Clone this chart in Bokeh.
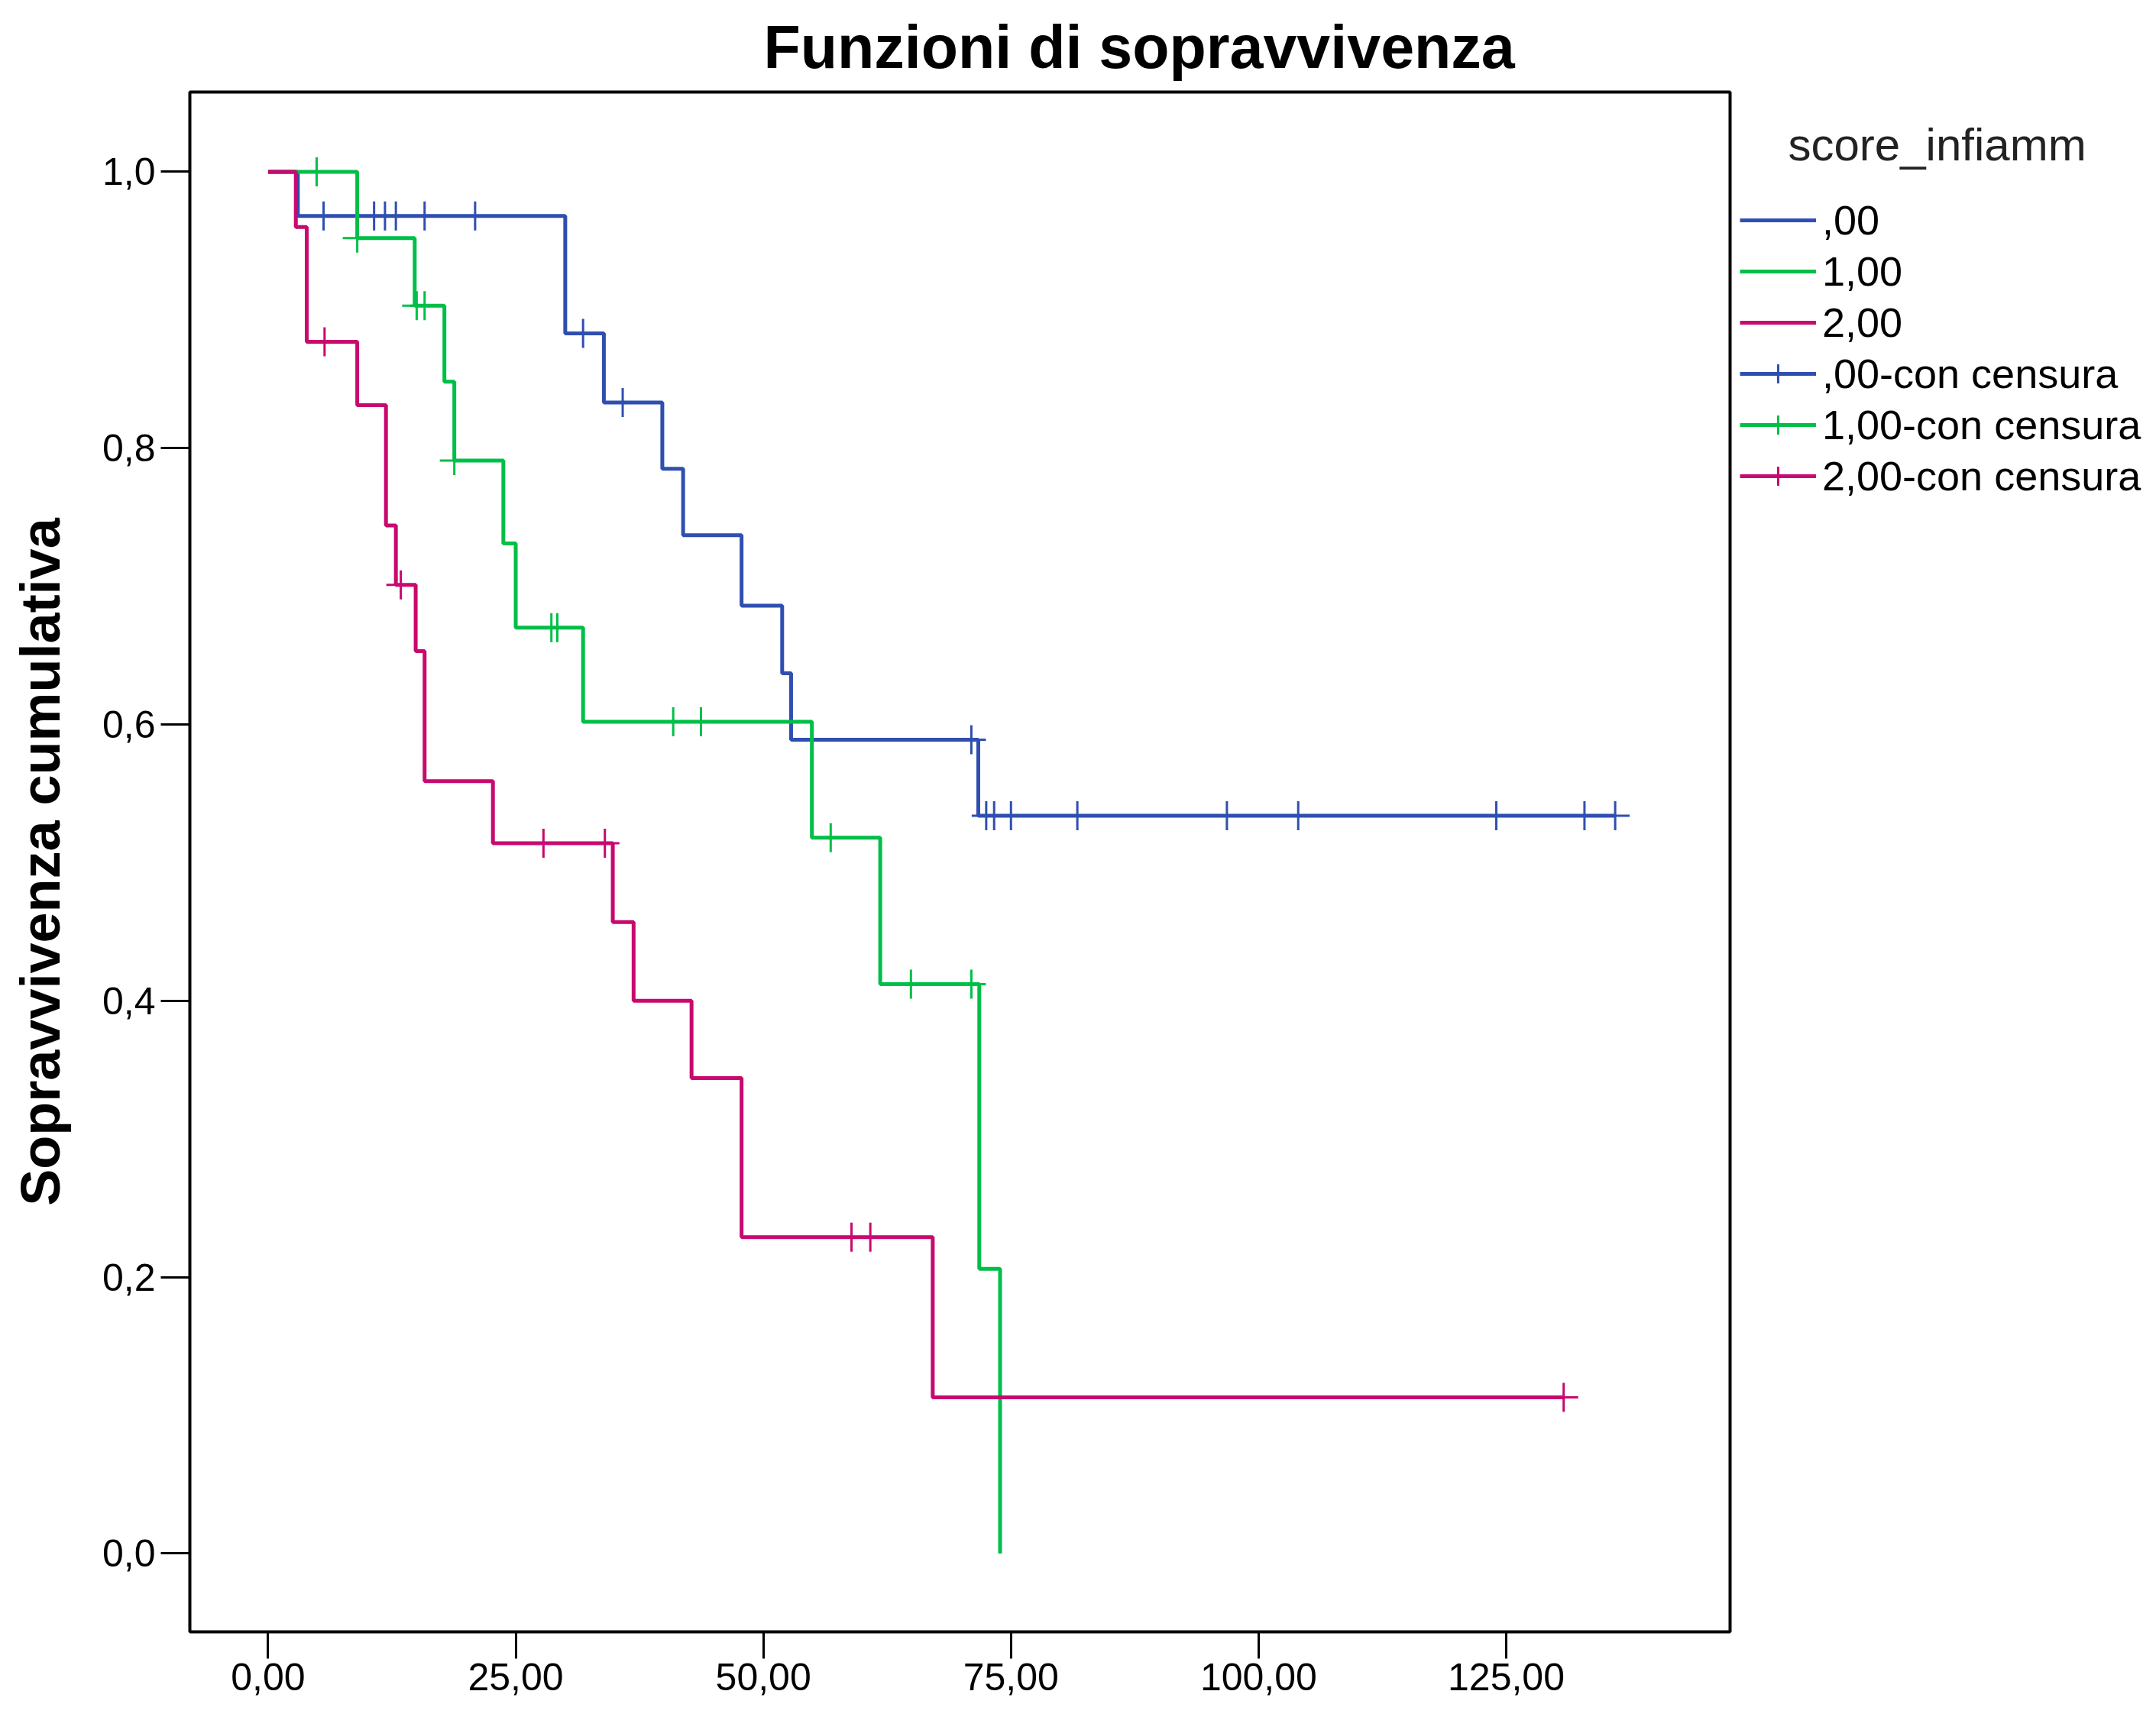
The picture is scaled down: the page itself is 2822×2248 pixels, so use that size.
import numpy as np
from bokeh.plotting import figure
from bokeh.models import (Range1d, FixedTicker, Legend, LegendItem, Title,
                          BoxAnnotation, Label)
from bokeh.embed import file_html
from bokeh.resources import INLINE

# ---- data ----
groups = [",00", "1,00", "2,00"]
colors = ["#2f4fb0", "#00bf48", "#c8096f"]

times_0 = [3.0, 30.0, 33.9, 39.8, 41.9, 47.8, 51.9, 52.8, 71.7]
surv_0 = [0.968, 0.883, 0.833, 0.785, 0.737, 0.686, 0.637, 0.589, 0.534]
censor_0 = [5.6, 10.7, 11.8, 12.9, 15.8, 20.9, 31.8, 35.8, 71.0, 72.5, 73.3,
            75.0, 81.7, 96.8, 104.0, 124.0, 132.9, 136.0]
end_0 = 136.0

times_1 = [9.0, 14.8, 17.8, 18.8, 23.75, 25.0, 31.8, 54.9, 61.8, 71.8, 73.9]
surv_1 = [0.952, 0.903, 0.848, 0.791, 0.731, 0.670, 0.602, 0.518, 0.412, 0.206, 0.0]
censor_1 = [4.9, 9.0, 15.0, 15.8, 18.8, 28.6, 29.2, 40.9, 43.7, 56.8, 64.9, 71.0]
end_1 = 73.9

times_2 = [2.8, 3.9, 9.0, 11.9, 12.9, 14.9, 15.8, 22.7, 34.8, 36.9, 42.75, 47.8, 67.1]
surv_2 = [0.960, 0.877, 0.831, 0.744, 0.701, 0.653, 0.559, 0.514, 0.457, 0.400,
          0.344, 0.229, 0.113]
censor_2 = [5.7, 13.4, 27.8, 34.0, 58.9, 60.8, 130.8]
end_2 = 130.8

x_ticks = [0, 25, 50, 75, 100, 125]
x_tick_labels = ["0,00", "25,00", "50,00", "75,00", "100,00", "125,00"]
y_ticks = [0.0, 0.2, 0.4, 0.6, 0.8, 1.0]
y_tick_labels = ["0,0", "0,2", "0,4", "0,6", "0,8", "1,0"]

series = [
    (times_0, surv_0, censor_0, end_0),
    (times_1, surv_1, censor_1, end_1),
    (times_2, surv_2, censor_2, end_2),
]

FONT = "Liberation Sans"

# ---- layout geometry (pixels) ----
W, H = 2806, 2232
box_l, box_r, box_t, box_b = 248, 2264, 120, 2136     # visible plot box
fr_l, fr_r, fr_t, fr_b = 240, W, 112, 2144            # bokeh frame
bx0, bx1 = -7.9, 147.6                                # data extent of box
by0, by1 = -0.0567, 1.0577
kx = (bx1 - bx0) / (box_r - box_l)
ky = (by1 - by0) / (box_b - box_t)
x_start = bx0 - (box_l - fr_l) * kx
x_end = bx1 + (fr_r - box_r) * kx
y_start = by0 - (fr_b - box_b) * ky
y_end = by1 + (box_t - fr_t) * ky

p = figure(width=W, height=H, output_backend="svg", toolbar_location=None,
           x_range=Range1d(x_start, x_end), y_range=Range1d(y_start, y_end),
           min_border_left=fr_l, min_border_right=W - fr_r, min_border_top=fr_t,
           min_border_bottom=H - fr_b)
p.grid.visible = False
p.outline_line_color = None
p.background_fill_color = "white"
p.border_fill_color = "white"

p.add_layout(BoxAnnotation(left=bx0, right=bx1, bottom=by0, top=by1,
                           fill_alpha=0, line_color="black", line_alpha=1.0,
                           line_width=4, level="underlay"))

p.title = Title(text="Funzioni di sopravvivenza", align="left", offset=759,
                text_font=FONT, text_font_size="79px", text_font_style="bold",
                text_color="black", standoff=14)

for ax in (p.xaxis[0], p.yaxis[0]):
    ax.axis_line_color = None
    ax.major_tick_line_color = "black"
    ax.major_tick_line_width = 3
    ax.major_tick_in = 8
    ax.minor_tick_line_color = None
    ax.major_label_text_font = FONT
    ax.major_label_text_font_size = "50px"
    ax.major_label_text_color = "black"

p.xaxis.ticker = FixedTicker(ticks=x_ticks)
p.xaxis.major_label_overrides = {t: l for t, l in zip(x_ticks, x_tick_labels)}
p.xaxis.major_tick_out = 27
p.xaxis.major_label_standoff = 6

p.yaxis.ticker = FixedTicker(ticks=y_ticks)
p.yaxis.major_label_overrides = {t: l for t, l in zip(y_ticks, y_tick_labels)}
p.yaxis.major_tick_out = 30
p.yaxis.major_label_standoff = 7
p.yaxis.axis_label = "Sopravvivenza cumulativa"
p.yaxis.axis_label_text_font = FONT
p.yaxis.axis_label_text_font_size = "72px"
p.yaxis.axis_label_text_font_style = "bold"
p.yaxis.axis_label_text_color = "black"
p.yaxis.axis_label_standoff = 38

line_rs = []
cens_rs = []
for (t, s, c, e), col in zip(series, colors):
    xs = [0.0] + list(t)
    ys = [1.0] + list(s)
    if e > xs[-1]:
        xs.append(e)
        ys.append(ys[-1])
    lr = p.step(xs, ys, mode="after", line_color=col, line_width=5)
    idx = np.searchsorted(np.array(xs), np.array(c), side="right") - 1
    cy = np.array(ys)[idx]
    cr = p.scatter(c, cy, marker="cross", size=38, line_color=col, line_width=3)
    line_rs.append(lr)
    cens_rs.append(cr)

items = []
for g, lr in zip(groups, line_rs):
    items.append(LegendItem(label=g, renderers=[lr]))
for g, lr, cr in zip(groups, line_rs, cens_rs):
    items.append(LegendItem(label=g + "-con censura", renderers=[lr, cr]))

legend = Legend(items=items, location=(2277 - fr_l, fr_b - 654),
                label_text_font=FONT, label_text_font_size="54px",
                label_text_color="black", glyph_width=100, glyph_height=62,
                label_height=62, label_standoff=8, spacing=5, padding=0,
                margin=0, border_line_color=None, background_fill_alpha=0)
p.add_layout(legend)

# legend heading (indented as in the reference)
lt_px, lt_py = 2340, 189
p.add_layout(Label(x=x_start + (lt_px - fr_l) * kx,
                   y=y_end - (lt_py - fr_t) * ky,
                   text="score_infiamm", text_font=FONT,
                   text_font_size="60px", text_color="#222222",
                   text_baseline="middle", text_align="left"))

open("out.html", "w").write(file_html(p, INLINE))
